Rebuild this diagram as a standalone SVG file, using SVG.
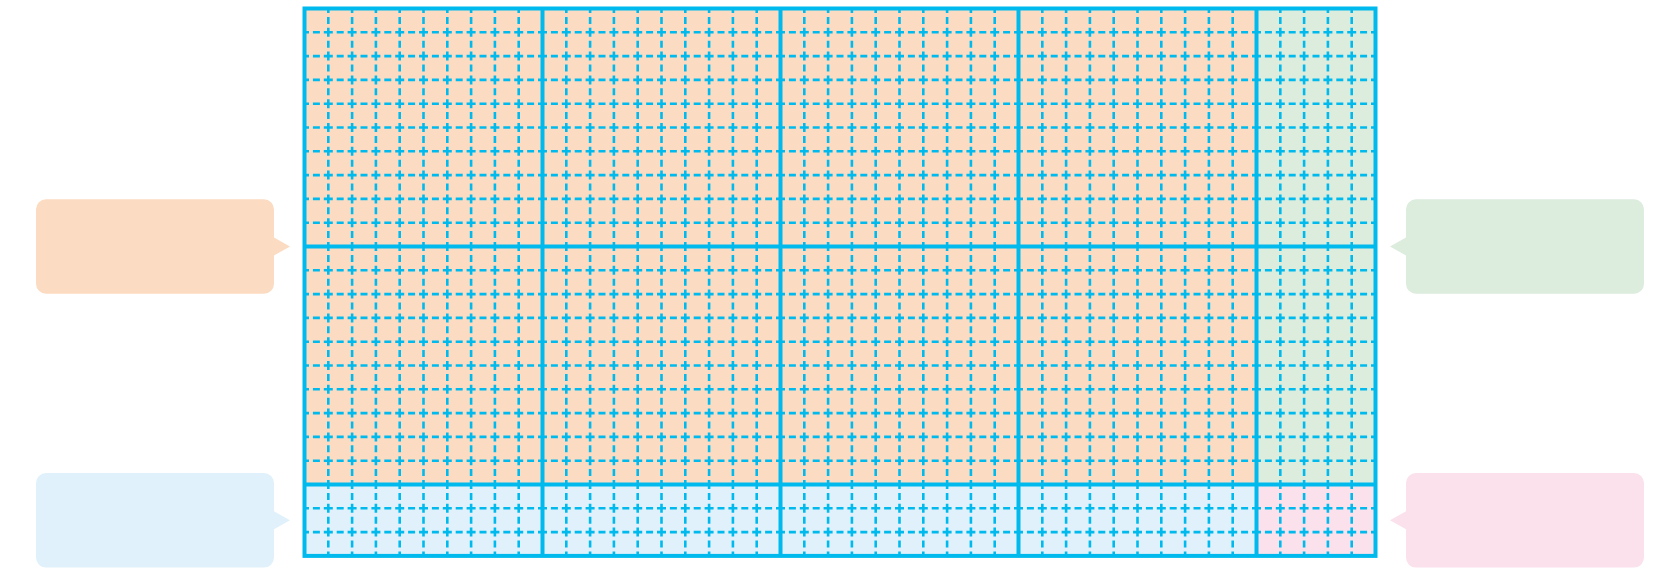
<svg xmlns="http://www.w3.org/2000/svg" width="1680" height="574" viewBox="0 0 1680 574">
<style>
.minor{fill:none;stroke:#00BAED;stroke-width:2.6;stroke-dasharray:9 3.9 7 3.9;stroke-dashoffset:4.5}
.major{fill:none;stroke:#00BAED;stroke-width:4}
.border{fill:none;stroke:#00BAED;stroke-width:4}
.orange{fill:#FBDCC2}
.green{fill:#DCECDD}
.blue{fill:#E0F1FB}
.pink{fill:#FAE1EB}
</style>
<rect width="1680" height="574" fill="#FFFFFF"/>
<g id="grid">
<rect class="orange" x="304.5" y="8.5" width="952" height="476"/>
<rect class="green" x="1256.5" y="8.5" width="119" height="476"/>
<rect class="blue" x="304.5" y="484.5" width="952" height="71.4"/>
<rect class="pink" x="1256.5" y="484.5" width="119" height="71.4"/>
<path class="minor" d="M328.3,8.5V555.9M352.1,8.5V555.9M375.9,8.5V555.9M399.7,8.5V555.9M423.5,8.5V555.9M447.3,8.5V555.9M471.1,8.5V555.9M494.9,8.5V555.9M518.7,8.5V555.9M566.3,8.5V555.9M590.1,8.5V555.9M613.9,8.5V555.9M637.7,8.5V555.9M661.5,8.5V555.9M685.3,8.5V555.9M709.1,8.5V555.9M732.9,8.5V555.9M756.7,8.5V555.9M804.3,8.5V555.9M828.1,8.5V555.9M851.9,8.5V555.9M875.7,8.5V555.9M899.5,8.5V555.9M923.3,8.5V555.9M947.1,8.5V555.9M970.9,8.5V555.9M994.7,8.5V555.9M1042.3,8.5V555.9M1066.1,8.5V555.9M1089.9,8.5V555.9M1113.7,8.5V555.9M1137.5,8.5V555.9M1161.3,8.5V555.9M1185.1,8.5V555.9M1208.9,8.5V555.9M1232.7,8.5V555.9M1280.3,8.5V555.9M1304.1,8.5V555.9M1327.9,8.5V555.9M1351.7,8.5V555.9"/>
<path class="minor" d="M304.5,32.3H1375.5M304.5,56.1H1375.5M304.5,79.9H1375.5M304.5,103.7H1375.5M304.5,127.5H1375.5M304.5,151.3H1375.5M304.5,175.1H1375.5M304.5,198.9H1375.5M304.5,222.7H1375.5M304.5,270.3H1375.5M304.5,294.1H1375.5M304.5,317.9H1375.5M304.5,341.7H1375.5M304.5,365.5H1375.5M304.5,389.3H1375.5M304.5,413.1H1375.5M304.5,436.9H1375.5M304.5,460.7H1375.5M304.5,508.3H1375.5M304.5,532.1H1375.5"/>
<path class="major" d="M542.5,8.5V555.9M780.5,8.5V555.9M1018.5,8.5V555.9M1256.5,8.5V555.9M304.5,246.5H1375.5M304.5,484.5H1375.5"/>
<rect class="border" x="304.5" y="8.5" width="1071" height="547.4"/>
</g>
<g id="callout-orange">
<path class="orange" d="M46,199.2H264A10,10 0 0 1 274,209.2V237.5L290,246.5L274,255.5V283.8A10,10 0 0 1 264,293.8H46A10,10 0 0 1 36,283.8V209.2A10,10 0 0 1 46,199.2Z"/>
</g>
<g id="callout-blue">
<path class="blue" d="M46,473H264A10,10 0 0 1 274,483V511.3L290,520.3L274,529.3V557.6A10,10 0 0 1 264,567.6H46A10,10 0 0 1 36,557.6V483A10,10 0 0 1 46,473Z"/>
</g>
<g id="callout-green">
<path class="green" d="M1416,199.2H1634A10,10 0 0 1 1644,209.2V283.8A10,10 0 0 1 1634,293.8H1416A10,10 0 0 1 1406,283.8V255.5L1390,246.5L1406,237.5V209.2A10,10 0 0 1 1416,199.2Z"/>
</g>
<g id="callout-pink">
<path class="pink" d="M1416,473H1634A10,10 0 0 1 1644,483V557.6A10,10 0 0 1 1634,567.6H1416A10,10 0 0 1 1406,557.6V529.3L1390,520.3L1406,511.3V483A10,10 0 0 1 1416,473Z"/>
</g>
<g id="connectors"></g>
</svg>
